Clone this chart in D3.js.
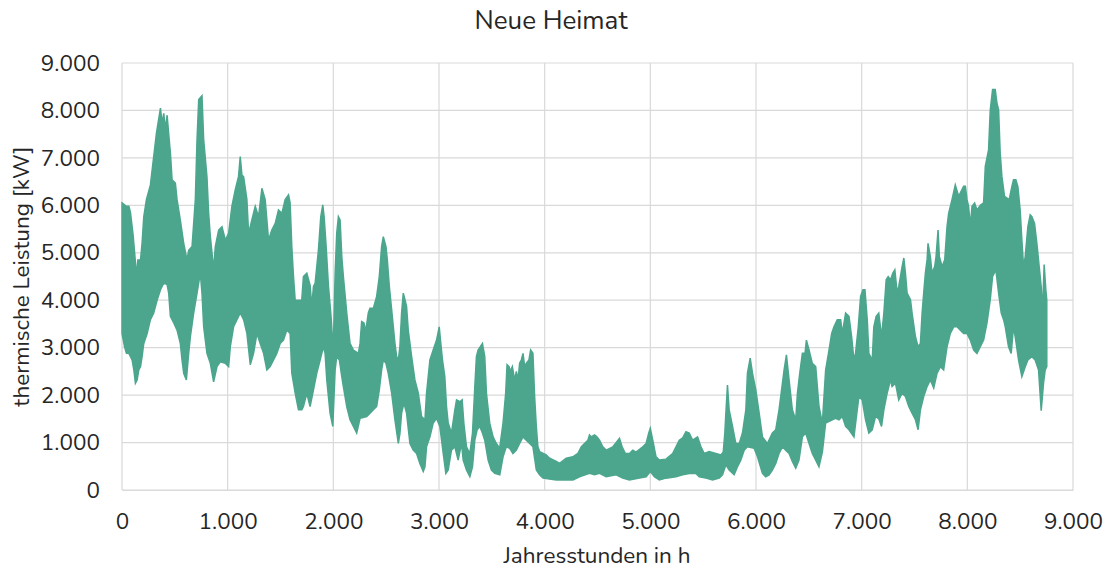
<!DOCTYPE html>
<html><head><meta charset="utf-8">
<script src="https://cdn.jsdelivr.net/npm/d3@7"></script>
<style>
body{margin:0;background:#fff;}
svg{display:block;}
text{font-family:"Nunito","Lato","Open Sans",sans-serif;fill:#262626;}
</style></head>
<body><svg id="c" width="1112" height="570"></svg>
<script>
const title = "Neue Heimat";
const xLabel = "Jahresstunden in h";
const yLabel = "thermische Leistung [kW]";
const xTicks = [0,1000,2000,3000,4000,5000,6000,7000,8000,9000];
const yTicks = [0,1000,2000,3000,4000,5000,6000,7000,8000,9000];

// upper envelope of hourly thermal load (hour, kW)
const upperHours = [0,42,65,80,105,127,137,150,175,190,206,231,269,300,326,364,379,395,411,427,442,458,474,505,521,552,584,615,631,663,694,710,726,757,773,804,820,836,852,867,883,915,946,978,1009,1040,1072,1103,1119,1135,1151,1182,1198,1229,1261,1292,1324,1355,1387,1418,1450,1481,1513,1544,1576,1591,1607,1623,1639,1701,1717,1749,1780,1796,1812,1828,1859,1881,1900,1913,1932,1954,1976,1991,2001,2017,2032,2048,2064,2080,2095,2127,2158,2190,2237,2253,2268,2290,2306,2331,2347,2379,2410,2435,2457,2473,2498,2511,2530,2552,2583,2599,2615,2630,2646,2662,2678,2693,2709,2741,2772,2804,2835,2867,2882,2914,2945,2977,3002,3014,3033,3055,3071,3087,3118,3150,3166,3197,3219,3235,3260,3292,3317,3339,3354,3370,3411,3433,3449,3480,3512,3543,3574,3606,3631,3644,3663,3675,3694,3716,3732,3748,3763,3779,3795,3811,3826,3851,3867,3889,3905,3921,3936,3952,4015,4047,4110,4141,4204,4267,4314,4346,4377,4409,4424,4440,4472,4494,4519,4550,4582,4645,4670,4708,4733,4764,4802,4834,4865,4928,4960,4985,5000,5023,5054,5085,5148,5211,5243,5274,5306,5337,5368,5400,5447,5479,5510,5557,5620,5668,5690,5705,5715,5730,5746,5778,5809,5841,5872,5904,5919,5945,5967,5998,6030,6061,6108,6155,6187,6218,6250,6266,6288,6313,6344,6376,6392,6414,6439,6464,6477,6502,6533,6565,6596,6628,6659,6691,6716,6738,6769,6801,6817,6848,6880,6905,6927,6942,6968,6990,7012,7031,7053,7068,7100,7115,7137,7162,7188,7210,7232,7251,7273,7295,7314,7336,7351,7383,7399,7414,7430,7462,7477,7509,7534,7556,7572,7587,7603,7619,7628,7650,7666,7691,7704,7723,7735,7761,7786,7808,7823,7855,7886,7918,7965,7981,7997,8012,8028,8044,8069,8091,8123,8154,8170,8201,8217,8239,8264,8280,8296,8311,8327,8352,8396,8422,8437,8459,8478,8500,8516,8532,8548,8573,8595,8611,8636,8658,8680,8699,8711,8727,8743,8752];
const upperValues = [6050,5980,5980,5850,5380,4800,4500,4850,4850,5200,5760,6120,6430,7030,7520,8050,7730,7940,7600,7900,7500,7100,6540,6470,6120,5690,5200,4850,5050,5130,6120,7380,8230,8310,7380,6600,5830,5340,4990,4640,5130,5480,5550,5270,5410,5980,6330,6610,7030,6640,6600,6120,5410,5690,5980,5760,6360,6120,5270,5480,5620,5900,5830,6120,6220,6050,5130,4500,4000,4000,4500,4570,4320,3870,4290,4360,5060,5760,6010,5760,5130,4290,3730,3230,3090,4570,5410,5760,5690,4920,4500,3730,3090,2950,2880,3090,3550,3520,3340,3730,3830,3830,4080,4500,5130,5340,5130,4850,4290,3800,3090,2810,2740,3020,3730,4150,4010,3870,3370,2810,2320,2040,1550,1480,2040,2740,2950,3160,3440,3160,2740,2390,1760,1410,1200,1690,1900,1860,1900,1410,910,770,1200,2180,2810,2950,3090,2810,2040,1410,1120,980,880,1410,2040,2640,2600,2500,2600,2320,2500,2320,2670,2740,2880,2600,2670,2740,2950,2880,1970,1340,910,810,740,670,600,560,670,700,770,910,980,1050,1160,1120,1160,1120,1050,910,840,910,980,1090,910,770,770,840,800,910,980,1200,1300,1050,700,630,650,770,910,1050,1100,1230,1200,1050,1120,910,770,810,770,740,800,1200,1620,2210,1690,1340,980,980,1200,1690,2460,2780,2460,2110,1620,1120,980,1200,1270,1690,2250,2530,2850,2320,1690,1480,2040,2460,2880,2880,3160,2950,2670,2600,1760,1410,2530,2950,3300,3440,3590,3590,3300,3730,3660,3230,2740,2880,3440,4080,4220,4220,3590,2880,2740,3440,3660,3730,3230,3730,4430,4500,4430,4570,4640,4150,4290,4710,4890,4570,4150,4010,3730,3230,3020,3090,3730,4150,4570,4850,5200,4920,4570,4710,4920,5480,4920,4710,4850,5550,5830,6120,6430,6190,6400,6400,6120,5980,5550,5980,6050,5900,6000,6050,6820,7170,8010,8440,8440,8160,8010,7100,6610,6190,6120,6400,6540,6540,6400,5900,5270,4710,4920,5550,5800,5760,5620,5200,4710,4290,3730,4750,4220,4000];

// lower envelope of hourly thermal load (hour, kW)
const lowerHours = [0,24,42,65,96,112,127,143,159,175,190,206,238,269,300,332,364,395,427,442,458,490,521,552,568,584,609,631,647,678,710,741,757,773,804,836,867,899,930,977,1009,1025,1056,1088,1119,1151,1182,1214,1245,1277,1308,1340,1371,1402,1434,1465,1497,1528,1560,1591,1607,1639,1670,1702,1717,1749,1780,1812,1843,1875,1906,1922,1938,1969,1995,2017,2032,2057,2080,2095,2127,2158,2190,2221,2253,2316,2379,2410,2435,2457,2473,2498,2520,2552,2583,2615,2630,2646,2668,2693,2725,2756,2788,2819,2851,2867,2882,2914,2945,2977,3008,3040,3065,3087,3118,3150,3181,3213,3229,3260,3292,3317,3339,3361,3386,3411,3433,3465,3496,3528,3575,3606,3637,3669,3700,3732,3763,3795,3826,3858,3889,3921,3952,3984,4110,4267,4330,4424,4472,4519,4582,4676,4739,4802,4897,4960,5000,5038,5085,5148,5243,5306,5369,5431,5463,5526,5589,5652,5683,5715,5746,5793,5825,5856,5888,5919,5982,6014,6061,6092,6124,6155,6187,6218,6250,6281,6313,6344,6376,6407,6439,6470,6502,6533,6565,6596,6628,6659,6722,6754,6785,6817,6848,6880,6927,6958,6974,7005,7037,7068,7100,7131,7162,7188,7210,7241,7273,7288,7320,7351,7383,7414,7446,7477,7509,7534,7556,7587,7619,7650,7682,7713,7745,7776,7808,7839,7871,7902,7934,7965,7997,8028,8060,8091,8123,8154,8186,8217,8239,8270,8296,8321,8343,8359,8390,8415,8437,8453,8485,8516,8548,8573,8611,8642,8674,8699,8721,8737,8752];
const lowerValues = [3300,3020,2880,2880,2740,2530,2250,2320,2530,2600,2810,3090,3300,3590,3730,4000,4220,4360,4330,4150,3660,3520,3370,3090,2740,2460,2320,2880,3230,3730,4150,4570,4150,3440,2880,2670,2280,2600,2700,2670,2600,3020,3440,3590,3730,3590,3300,2640,2880,3300,3090,2880,2530,2600,2740,2880,3090,3160,3370,3300,2460,2040,1690,1690,1760,2040,1760,2110,2460,2740,3020,2880,2320,1620,1340,2530,2810,2740,2390,2180,1760,1480,1340,1200,1510,1550,1690,1760,2110,2530,2740,2670,2460,2040,1480,980,1190,1620,1830,1620,980,840,770,560,390,490,910,1120,1410,1510,1340,770,350,420,840,910,630,980,630,420,280,490,1050,1270,1340,1200,1050,630,420,350,320,700,910,880,770,840,980,1120,1050,980,910,420,320,250,210,210,280,350,320,350,280,320,250,210,250,280,390,280,210,250,280,320,350,350,280,250,210,250,320,530,420,320,490,630,840,910,880,700,350,280,320,420,560,770,910,840,770,600,460,630,1120,1200,980,770,630,490,800,1410,1480,1510,1480,1550,1340,1270,1120,1690,1970,1900,1480,1200,1270,1550,1500,1340,1690,2040,2320,2180,2250,1900,2040,1970,1760,1620,1480,1270,1690,1970,2180,2320,2150,2460,2600,2530,3020,3300,3440,3440,3370,3300,3300,3160,2950,2880,3020,3160,3520,4010,4500,4640,4150,3730,3590,3440,3020,2880,3440,3230,2740,2390,2600,2740,2810,2740,2530,1670,2250,2530,2600];

const W = 1112, H = 570;
const m = {left:122, right:39, top:63, bottom:80};
const svg = d3.select("#c");

const x = d3.scaleLinear().domain([0,9000]).range([m.left, W - m.right]);
const y = d3.scaleLinear().domain([0,9000]).range([H - m.bottom, m.top]);
const fmt = v => d3.format(",")(v).replace(/,/g, ".");
const FONT = "Nunito, Lato, 'Open Sans', sans-serif";

// grid
const grid = svg.append("g");
grid.selectAll("line.h").data(yTicks).join("line")
  .attr("x1", x(0)).attr("x2", x(9000))
  .attr("y1", d => y(d)).attr("y2", d => y(d))
  .attr("stroke", "#d9d9d9").attr("stroke-width", 1.2);
grid.selectAll("line.v").data(xTicks).join("line")
  .attr("y1", y(0)).attr("y2", y(9000))
  .attr("x1", d => x(d)).attr("x2", d => x(d))
  .attr("stroke", "#d9d9d9").attr("stroke-width", 1.2);

// data band
const pts = upperHours.map((h,i) => [h, upperValues[i]])
  .concat(lowerHours.map((h,i) => [h, lowerValues[i]]).reverse());
const line = d3.line().x(d => x(d[0])).y(d => y(d[1])).curve(d3.curveLinear);
svg.append("path").attr("d", line(pts) + "Z")
  .attr("fill", "#4ca68d").attr("stroke", "#4ca68d").attr("stroke-width", 1.5)
  .attr("stroke-linejoin", "miter");

// axes
const xAxis = d3.axisBottom(x).tickValues(xTicks).tickFormat(fmt).tickSize(0).tickPadding(23);
svg.append("g").attr("transform", `translate(0,${y(0)})`).call(xAxis)
  .call(g => g.select(".domain").attr("stroke", "#d9d9d9").attr("stroke-width", 1.2))
  .call(g => g.selectAll("text").attr("font-size", 22.5).attr("fill", "#262626").attr("font-family", FONT));
const yAxis = d3.axisLeft(y).tickValues(yTicks).tickFormat(fmt).tickSize(0).tickPadding(22);
svg.append("g").attr("transform", `translate(${x(0)},0)`).call(yAxis)
  .call(g => g.select(".domain").remove())
  .call(g => g.selectAll("text").attr("font-size", 22.5).attr("fill", "#262626").attr("font-family", FONT));

// titles
svg.append("text").attr("x", 551).attr("y", 29).attr("text-anchor", "middle")
  .attr("font-size", 26).text(title);
svg.append("text").attr("x", 597).attr("y", 563).attr("text-anchor", "middle")
  .attr("font-size", 22.5).text(xLabel);
svg.append("text").attr("transform", `translate(29,${(y(0)+y(9000))/2}) rotate(-90)`)
  .attr("text-anchor", "middle").attr("font-size", 22.5).text(yLabel);
</script></body></html>
